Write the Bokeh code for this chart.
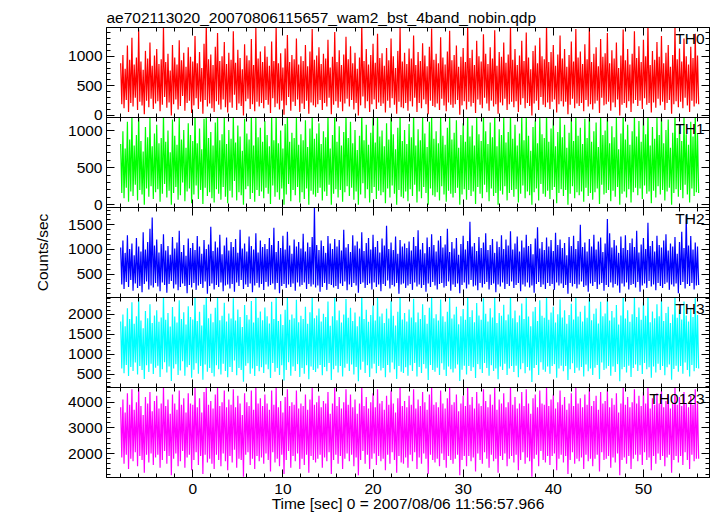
import numpy as np
from bokeh.plotting import figure
from bokeh.models import LinearAxis, Range1d, Label, SingleIntervalTicker
from bokeh.layouts import column
from bokeh.embed import file_html
from bokeh.resources import INLINE

TITLE = "ae702113020_20070806115657_wam2_bst_4band_nobin.qdp"
X_LABEL = "Time [sec] 0 = 2007/08/06 11:56:57.966"
Y_LABEL = "Counts/sec"

# The light curve is very dense; it is kept as the highest (_hi) and lowest (_lo)
# count rate seen in each 0.25 s bin.
T_START = -8.0   # start of first bin [s]
T_BIN = 0.25     # bin width [s]

th0_hi = [
    880, 1020, 790, 1180, 940, 1310, 860, 980, 1450, 910, 770, 1090, 960, 1230, 840, 1010,
    1120, 870, 950, 1500, 900, 1040, 760, 1190, 980, 860, 1270, 930, 1060, 820, 1150, 990,
    910, 1340, 880, 1070, 800, 1210, 1550, 950, 1030, 850, 1160, 1390, 920, 1000, 1240, 870,
    1060, 940, 1420, 890, 1110, 970, 780, 1200, 1010, 930, 1290, 850, 1480, 960, 1080, 900,
    1170, 990, 840, 1250, 920, 1520, 880, 1050, 810, 1130, 1360, 900, 1020, 950, 1300, 860,
    1000, 920, 1190, 830, 1080, 1460, 940, 1010, 1150, 870, 1040, 960, 1280, 810, 990, 1410,
    900, 1100, 850, 1030, 1330, 950, 1170, 880, 1060, 790, 980, 1540, 920, 1120, 860, 1020,
    1210, 890, 1380, 970, 1050, 840, 1140, 930, 1300, 1000, 800, 1090, 1500, 910, 1060, 870,
    1130, 960, 1350, 850, 1070, 920, 1220, 1010, 830, 1160, 1470, 940, 1040, 880, 1320, 980,
    860, 1080, 1430, 930, 1020, 1180, 820, 990, 1140, 900, 1550, 970, 1110, 850, 1260, 1000,
    910, 1370, 1040, 870, 1150, 960, 1440, 840, 1070, 990, 1230, 890, 1030, 1510, 940, 1120,
    850, 1010, 1260, 920, 1400, 980, 780, 1090, 1180, 880, 1310, 1000, 950, 1530, 900, 1070,
    1190, 840, 1030, 1350, 960, 1120, 820, 1020, 1250, 910, 1460, 980, 1080, 870, 1200, 950,
    1500, 900, 1040, 1150, 830, 1290, 990, 1050, 1390, 880, 1100, 960, 1230, 800, 1010, 1450,
    930, 1120, 860, 1040, 1420, 970, 1170, 900, 1280, 1000, 1540, 850, 1090, 940, 1240, 990,
    1340, 880, 1060, 1190, 820, 1020, 1480, 950, 1130, 910, 1300, 1000, 860, 1160, 970, 1380,
    1010,
]
th0_lo = [
    190, 120, 260, 60, 210, 150, 300, 90, 230, 170, 20, 250, 140, 280, 110, 200,
    240, 70, 180, 310, 130, 220, 0, 190, 270, 100, 160, 330, 80, 210, 250, 40,
    170, 290, 110, 230, 30, 260, 150, 200, 120, 60, 240, 180, 100, 270, 140, 50,
    220, 130, 350, 90, 200, 160, 0, 240, 280, 110, 190, 70, 230, 150, 210, 120,
    260, 180, 40, 290, 140, 200, 100, 250, 10, 170, 310, 80, 230, 160, 270, 60,
    200, 110, 250, 30, 220, 170, 140, 190, 260, 90, 210, 150, 300, 20, 180, 240,
    130, 230, 70, 200, 280, 150, 260, 100, 210, 0, 170, 320, 120, 240, 60, 190,
    270, 110, 220, 160, 200, 50, 250, 130, 290, 180, 30, 230, 140, 120, 210, 80,
    240, 150, 300, 60, 210, 120, 270, 190, 20, 250, 160, 140, 200, 90, 280, 170,
    70, 220, 180, 130, 190, 260, 10, 170, 240, 100, 230, 150, 210, 40, 270, 180,
    120, 300, 200, 80, 250, 150, 190, 30, 220, 170, 280, 90, 190, 230, 140, 240,
    60, 180, 290, 120, 210, 160, 0, 200, 250, 90, 310, 180, 140, 220, 110, 230,
    270, 50, 190, 240, 150, 230, 20, 180, 280, 120, 200, 160, 210, 70, 260, 150,
    190, 100, 200, 250, 40, 300, 170, 190, 230, 80, 220, 140, 270, 0, 180, 210,
    130, 240, 60, 200, 260, 160, 250, 110, 290, 180, 210, 50, 220, 130, 280, 170,
    230, 90, 210, 260, 30, 190, 240, 140, 230, 120, 300, 170, 60, 250, 150, 200,
    190,
]

th1_hi = [
    820, 990, 760, 1120, 880, 1210, 800, 940, 1240, 860, 720, 1050, 910, 1180, 790, 960,
    1080, 830, 900, 1230, 850, 1000, 710, 1150, 930, 810, 1200, 880, 1010, 770, 1100, 940,
    860, 1250, 830, 1030, 750, 1160, 1220, 900, 980, 800, 1110, 1200, 870, 950, 1190, 820,
    1010, 890, 1210, 840, 1070, 920, 730, 1160, 960, 880, 1230, 800, 1190, 910, 1040, 850,
    1130, 940, 790, 1200, 870, 1240, 830, 1000, 760, 1090, 1210, 850, 970, 900, 1180, 810,
    950, 870, 1140, 780, 1030, 1220, 890, 960, 1100, 820, 990, 910, 1200, 760, 940, 1230,
    850, 1060, 800, 980, 1210, 900, 1120, 830, 1010, 740, 930, 1250, 870, 1080, 810, 970,
    1170, 840, 1200, 920, 1000, 790, 1100, 880, 1220, 950, 750, 1040, 1240, 860, 1010, 820,
    1090, 910, 1230, 800, 1020, 870, 1180, 960, 780, 1120, 1210, 890, 990, 830, 1200, 930,
    810, 1040, 1220, 880, 970, 1140, 770, 940, 1100, 850, 1250, 920, 1070, 800, 1190, 950,
    860, 1210, 990, 820, 1110, 910, 1230, 790, 1020, 940, 1180, 840, 980, 1240, 890, 1080,
    800, 960, 1190, 870, 1220, 930, 730, 1050, 1140, 830, 1200, 950, 900, 1250, 850, 1030,
    1150, 790, 980, 1210, 910, 1080, 770, 970, 1190, 860, 1230, 930, 1040, 820, 1160, 900,
    1240, 850, 990, 1110, 780, 1200, 940, 1000, 1220, 830, 1060, 910, 1180, 750, 960, 1230,
    880, 1080, 810, 990, 1210, 920, 1130, 850, 1190, 950, 1250, 800, 1050, 890, 1170, 940,
    1210, 830, 1010, 1150, 770, 970, 1240, 900, 1090, 860, 1200, 950, 810, 1120, 920, 1220,
    960,
]
th1_lo = [
    160, 90, 230, 40, 180, 120, 270, 60, 200, 140, 0, 220, 110, 250, 80, 170,
    210, 40, 150, 280, 100, 190, 0, 160, 240, 70, 130, 300, 50, 180, 220, 20,
    140, 260, 80, 200, 10, 230, 120, 170, 90, 30, 210, 150, 70, 240, 110, 20,
    190, 100, 320, 60, 170, 130, 0, 210, 250, 80, 160, 40, 200, 120, 180, 90,
    230, 150, 10, 260, 110, 170, 70, 220, 0, 140, 280, 50, 200, 130, 240, 30,
    170, 80, 220, 0, 190, 140, 110, 160, 230, 60, 180, 120, 270, 0, 150, 210,
    100, 200, 40, 170, 250, 120, 230, 70, 180, 0, 140, 290, 90, 210, 30, 160,
    240, 80, 190, 130, 170, 20, 220, 100, 260, 150, 0, 200, 110, 90, 180, 50,
    210, 120, 270, 30, 180, 90, 240, 160, 0, 220, 130, 110, 170, 60, 250, 140,
    40, 190, 150, 100, 160, 230, 0, 140, 210, 70, 200, 120, 180, 10, 240, 150,
    90, 270, 170, 50, 220, 120, 160, 0, 190, 140, 250, 60, 160, 200, 110, 210,
    30, 150, 260, 90, 180, 130, 0, 170, 220, 60, 280, 150, 110, 190, 80, 200,
    240, 20, 160, 210, 120, 200, 0, 150, 250, 90, 170, 130, 180, 40, 230, 120,
    160, 70, 170, 220, 10, 270, 140, 160, 200, 50, 190, 110, 240, 0, 150, 180,
    100, 210, 30, 170, 230, 130, 220, 80, 260, 150, 180, 20, 190, 100, 250, 140,
    200, 60, 180, 230, 0, 160, 210, 110, 200, 90, 270, 140, 30, 220, 120, 170,
    160,
]

th2_hi = [
    1040, 1180, 930, 1290, 1010, 1120, 880, 1230, 1060, 960, 1350, 1000, 1150, 1420, 1650, 1080,
    1200, 940, 1110, 1310, 980, 1070, 890, 1250, 1020, 1140, 1380, 950, 1090, 870, 1220, 1030,
    1130, 990, 1270, 1060, 910, 1190, 1010, 1100, 1460, 970, 1160, 1040, 1300, 900, 1080, 1240,
    980, 1150, 1050, 1210, 930, 1400, 1020, 1120, 960, 1260, 1070, 1000, 1330, 940, 1180, 1050,
    1110, 1010, 1230, 1090, 1440, 950, 1170, 1030, 1280, 1000, 1360, 1080, 910, 1200, 1060, 1150,
    1020, 1320, 960, 1140, 1050, 1250, 1850, 1090, 990, 1180, 1070, 930, 1270, 1120, 1010, 1210,
    1060, 1190, 980, 1400, 1040, 1110, 950, 1290, 1080, 1160, 1020, 1350, 970, 1130, 1230, 1000,
    1300, 1050, 1170, 940, 1220, 1080, 1480, 1010, 1140, 990, 1260, 910, 1190, 1060, 1120, 1030,
    1160, 980, 1250, 1070, 1390, 1000, 1130, 920, 1240, 1050, 1310, 1090, 960, 1180, 1270, 1040,
    1100, 1420, 950, 1150, 1020, 1230, 890, 1110, 1280, 1000, 1170, 1560, 1060, 1130, 970, 1250,
    1030, 1140, 1330, 990, 1090, 1210, 930, 1160, 1050, 1290, 1010, 1200, 1080, 1370, 1000, 1120,
    1260, 960, 1180, 1040, 1300, 1070, 1110, 900, 1220, 1450, 1020, 1150, 990, 1240, 1060, 1190,
    970, 1340, 1090, 1200, 1030, 1130, 880, 1250, 1070, 1280, 1010, 1170, 1500, 1050, 1140, 960,
    1210, 1060, 1300, 1000, 1160, 1240, 950, 1120, 1620, 1330, 1040, 1190, 1080, 930, 1260, 1030,
    1290, 990, 1130, 1220, 1050, 1380, 940, 1100, 1230, 1010, 1540, 1070, 1170, 960, 1280, 1090,
    1040, 1180, 1310, 980, 1120, 1060, 1250, 910, 1150, 1360, 1030, 1700, 1080, 1270, 1000, 1140,
    1060,
]
th2_lo = [
    290, 200, 340, 240, 380, 160, 310, 220, 260, 130, 300, 350, 190, 270, 230, 320,
    250, 150, 330, 280, 120, 300, 360, 210, 290, 170, 240, 310, 260, 110, 280, 230,
    320, 180, 270, 300, 220, 350, 100, 260, 310, 190, 280, 240, 330, 150, 270, 290,
    210, 300, 140, 330, 260, 380, 200, 290, 240, 310, 130, 270, 320, 230, 300, 180,
    340, 250, 280, 310, 190, 320, 110, 260, 300, 220, 290, 240, 310, 160, 330, 250,
    280, 330, 200, 300, 250, 290, 230, 270, 140, 240, 320, 180, 300, 280, 230, 260,
    200, 310, 260, 350, 170, 290, 240, 320, 270, 120, 300, 330, 220, 280, 310, 190,
    330, 240, 290, 150, 300, 260, 370, 210, 280, 250, 320, 100, 290, 310, 220, 270,
    300, 180, 330, 250, 290, 220, 280, 140, 310, 240, 340, 270, 190, 300, 320, 230,
    260, 350, 160, 290, 240, 310, 110, 280, 330, 210, 290, 380, 250, 270, 170, 320,
    230, 300, 340, 190, 280, 310, 130, 290, 250, 330, 200, 300, 260, 350, 220, 280,
    320, 150, 290, 250, 330, 230, 270, 120, 300, 340, 240, 290, 200, 320, 260, 300,
    180, 330, 270, 310, 220, 280, 100, 320, 250, 300, 210, 290, 350, 240, 270, 140,
    310, 260, 340, 200, 290, 320, 160, 280, 240, 330, 230, 300, 270, 120, 310, 250,
    330, 190, 280, 300, 230, 340, 140, 270, 310, 220, 360, 250, 290, 170, 320, 260,
    220, 300, 330, 180, 290, 250, 310, 110, 280, 340, 210, 300, 260, 320, 190, 270,
    280,
]

th3_hi = [
    1820, 1990, 1700, 2150, 1880, 2300, 1760, 1950, 2420, 1840, 1650, 2080, 1900, 2250, 1780, 1970,
    2100, 1810, 1920, 2480, 1860, 2030, 1690, 2180, 1940, 1790, 2350, 1880, 2050, 1740, 2200, 1930,
    1870, 2440, 1830, 2060, 1720, 2240, 2500, 1900, 2010, 1800, 2160, 2450, 1850, 1960, 2290, 1820,
    2020, 1890, 2400, 1840, 2120, 1930, 1680, 2230, 1980, 1870, 2330, 1790, 2470, 1910, 2070, 1850,
    2170, 1950, 1770, 2310, 1880, 2500, 1830, 2000, 1730, 2110, 2420, 1860, 1990, 1900, 2360, 1800,
    1960, 1880, 2190, 1760, 2050, 2460, 1900, 1970, 2140, 1820, 2010, 1930, 2320, 1710, 1950, 2430,
    1850, 2090, 1790, 1990, 2380, 1910, 2160, 1830, 2040, 1700, 1940, 2500, 1880, 2110, 1810, 1980,
    2220, 1840, 2410, 1940, 2020, 1780, 2140, 1890, 2340, 1960, 1720, 2060, 2480, 1870, 2030, 1820,
    2120, 1920, 2390, 1800, 2040, 1880, 2250, 1980, 1760, 2160, 2450, 1900, 2000, 1840, 2370, 1950,
    1810, 2060, 2430, 1890, 1990, 2190, 1750, 1950, 2130, 1860, 2500, 1930, 2100, 1800, 2280, 1970,
    1860, 2400, 2010, 1820, 2150, 1920, 2460, 1780, 2030, 1960, 2240, 1850, 1990, 2490, 1900, 2090,
    1800, 1970, 2270, 1880, 2420, 1940, 1700, 2070, 2180, 1830, 2350, 1960, 1910, 2500, 1860, 2040,
    2190, 1790, 2000, 2370, 1920, 2100, 1760, 1980, 2260, 1870, 2440, 1940, 2060, 1820, 2210, 1910,
    2480, 1850, 2010, 2140, 1770, 2310, 1950, 2020, 2400, 1840, 2080, 1920, 2230, 1740, 1970, 2450,
    1890, 2100, 1810, 2000, 2430, 1930, 2170, 1860, 2300, 1960, 2500, 1800, 2070, 1900, 2250, 1950,
    2360, 1830, 2030, 2190, 1780, 1990, 2470, 1910, 2120, 1870, 2320, 1970, 1820, 2160, 1930, 2400,
    1980,
]
th3_lo = [
    640, 520, 730, 450, 680, 580, 790, 490, 700, 600, 380, 720, 550, 760, 500, 660,
    710, 430, 620, 800, 540, 690, 330, 640, 750, 480, 590, 820, 460, 670, 730, 410,
    610, 770, 510, 700, 360, 740, 560, 650, 530, 440, 720, 620, 490, 760, 580, 420,
    680, 550, 840, 470, 650, 600, 310, 710, 770, 510, 640, 450, 700, 570, 670, 530,
    740, 620, 400, 780, 560, 650, 480, 720, 340, 600, 800, 460, 690, 580, 750, 430,
    650, 510, 720, 370, 690, 600, 550, 640, 730, 470, 680, 570, 780, 350, 620, 710,
    540, 700, 440, 660, 760, 580, 740, 490, 680, 320, 610, 810, 530, 720, 430, 640,
    760, 520, 700, 590, 650, 420, 730, 540, 790, 620, 380, 700, 560, 530, 670, 460,
    720, 580, 780, 440, 680, 530, 750, 640, 350, 730, 600, 560, 660, 480, 770, 610,
    450, 690, 620, 540, 640, 740, 330, 610, 710, 490, 700, 580, 670, 400, 750, 620,
    530, 780, 650, 460, 720, 580, 640, 370, 690, 600, 760, 480, 640, 700, 550, 710,
    420, 620, 770, 520, 680, 590, 300, 650, 730, 480, 800, 610, 560, 690, 510, 700,
    750, 410, 640, 710, 570, 700, 350, 620, 770, 530, 660, 590, 680, 440, 740, 570,
    640, 480, 660, 730, 380, 790, 600, 640, 700, 460, 690, 550, 750, 320, 620, 680,
    540, 710, 430, 650, 740, 580, 720, 500, 780, 620, 670, 410, 690, 540, 760, 600,
    700, 470, 670, 740, 360, 630, 710, 560, 700, 510, 790, 600, 440, 730, 570, 650,
    640,
]

th0123_hi = [
    3800, 4100, 3600, 4350, 3900, 4500, 3700, 4000, 4600, 3850, 3500, 4200, 3950, 4400, 3650, 4050,
    4250, 3750, 3950, 4600, 3850, 4100, 3550, 4300, 3950, 3700, 4450, 3900, 4150, 3600, 4350, 3950,
    3900, 4550, 3800, 4150, 3600, 4400, 4600, 3900, 4050, 3750, 4300, 4550, 3850, 4000, 4450, 3800,
    4100, 3900, 4500, 3800, 4250, 3950, 3500, 4350, 4000, 3850, 4450, 3700, 4600, 3950, 4150, 3850,
    4300, 3950, 3700, 4450, 3900, 4600, 3800, 4050, 3600, 4200, 4500, 3850, 4000, 3900, 4450, 3750,
    3950, 3850, 4300, 3700, 4100, 4550, 3900, 4000, 4250, 3800, 4050, 3950, 4400, 3550, 3950, 4550,
    3850, 4200, 3750, 4000, 4500, 3900, 4300, 3800, 4100, 3550, 3950, 4600, 3850, 4200, 3750, 4000,
    4350, 3800, 4500, 3950, 4050, 3700, 4250, 3900, 4450, 3950, 3600, 4150, 4600, 3850, 4050, 3800,
    4250, 3900, 4500, 3750, 4100, 3850, 4400, 4000, 3700, 4300, 4550, 3900, 4000, 3800, 4450, 3950,
    3750, 4150, 4550, 3900, 4000, 4300, 3650, 3950, 4250, 3850, 4600, 3900, 4200, 3750, 4400, 3950,
    3850, 4500, 4050, 3800, 4300, 3900, 4550, 3700, 4100, 3950, 4350, 3800, 4000, 4600, 3900, 4200,
    3750, 3950, 4400, 3850, 4500, 3950, 3550, 4150, 4300, 3800, 4450, 3950, 3900, 4600, 3850, 4100,
    4300, 3750, 4000, 4450, 3900, 4200, 3700, 3950, 4350, 3850, 4550, 3950, 4150, 3800, 4300, 3900,
    4600, 3850, 4050, 4250, 3700, 4400, 3950, 4050, 4500, 3800, 4150, 3900, 4350, 3600, 3950, 4550,
    3900, 4200, 3800, 4000, 4500, 3950, 4250, 3850, 4400, 3950, 4600, 3750, 4150, 3900, 4350, 3950,
    4450, 3800, 4050, 4300, 3750, 3950, 4550, 3900, 4200, 3850, 4400, 3950, 3800, 4250, 3900, 4500,
    3950,
]
th0123_lo = [
    1850, 1600, 1950, 1400, 1800, 1700, 2050, 1500, 1900, 1750, 1250, 1950, 1650, 2000, 1550, 1850,
    1950, 1450, 1750, 2100, 1600, 1900, 1150, 1800, 2000, 1500, 1700, 2100, 1450, 1850, 1950, 1350,
    1750, 2050, 1550, 1900, 1200, 1950, 1650, 1800, 1600, 1400, 1950, 1750, 1500, 2000, 1700, 1350,
    1900, 1650, 2150, 1450, 1800, 1750, 1100, 1950, 2050, 1550, 1800, 1400, 1900, 1700, 1850, 1600,
    2000, 1750, 1300, 2050, 1650, 1800, 1500, 1950, 1200, 1750, 2100, 1450, 1900, 1700, 2000, 1400,
    1800, 1550, 1950, 1250, 1900, 1750, 1650, 1800, 1950, 1450, 1850, 1700, 2050, 1200, 1750, 1950,
    1600, 1900, 1400, 1800, 2000, 1700, 1950, 1500, 1850, 1150, 1750, 2100, 1600, 1950, 1400, 1800,
    2000, 1550, 1900, 1700, 1800, 1350, 1950, 1600, 2050, 1750, 1250, 1900, 1650, 1600, 1850, 1450,
    1950, 1700, 2050, 1400, 1850, 1600, 2000, 1800, 1200, 1950, 1750, 1650, 1800, 1500, 2000, 1750,
    1450, 1900, 1750, 1600, 1800, 1950, 1150, 1750, 1900, 1500, 1900, 1700, 1850, 1300, 2000, 1750,
    1600, 2050, 1800, 1450, 1950, 1700, 1800, 1250, 1900, 1750, 2000, 1500, 1800, 1900, 1650, 1950,
    1350, 1750, 2050, 1600, 1850, 1700, 1100, 1800, 1950, 1500, 2100, 1750, 1650, 1900, 1550, 1900,
    2000, 1350, 1800, 1950, 1650, 1900, 1200, 1750, 2050, 1600, 1800, 1700, 1850, 1400, 1950, 1700,
    1800, 1500, 1800, 1950, 1300, 2050, 1750, 1800, 1900, 1450, 1850, 1650, 2000, 1150, 1750, 1850,
    1600, 1900, 1400, 1800, 1950, 1700, 1950, 1550, 2050, 1750, 1850, 1350, 1900, 1600, 2000, 1750,
    1900, 1500, 1850, 1950, 1250, 1750, 1900, 1650, 1900, 1550, 2050, 1750, 1400, 1950, 1700, 1800,
    1800,
]

panel_names = ["TH0", "TH1", "TH2", "TH3", "TH0123"]
panel_hi = [th0_hi, th1_hi, th2_hi, th3_hi, th0123_hi]
panel_lo = [th0_lo, th1_lo, th2_lo, th3_lo, th0123_lo]
panel_colors = ["#ff0000", "#00ff00", "#0000ff", "#00ffff", "#ff00ff"]
panel_yranges = [(-35, 1485), (-36, 1177), (25, 1851), (164, 2419), (1066, 4572)]
panel_ytick = [500, 500, 500, 500, 1000]
X_RANGE = (-9.57, 57.33)

FONT = "Liberation Sans"
FS = "15.5px"
LEFT, RIGHT = 106, 8
FRAME_W = 603
W = LEFT + FRAME_W + RIGHT
TOP, FRAME_H, BOTTOM = 27, 90, 39
OV = 10   # canvases overlap so that labels at panel edges are not cut
LINE_W = 1.2

xr = Range1d(*X_RANGE)


def style_axis(ax, show_labels):
    ax.major_tick_in = 8
    ax.major_tick_out = 0
    ax.minor_tick_in = 4
    ax.minor_tick_out = 0
    ax.axis_line_color = "black"
    ax.major_tick_line_color = "black"
    ax.minor_tick_line_color = "black"
    if show_labels:
        ax.major_label_text_font = FONT
        ax.major_label_text_font_size = FS
        ax.major_label_text_color = "black"
        ax.major_label_standoff = 4
    else:
        ax.major_label_text_font_size = "0px"
        ax.major_label_standoff = 0


figs = []
n = len(panel_names)
for i in range(n):
    first, last = i == 0, i == n - 1
    y0, y1 = panel_yranges[i]
    top_b = TOP if first else 0
    bot_b = BOTTOM if last else OV
    p = figure(width=W, height=FRAME_H + top_b + bot_b, x_range=xr, y_range=Range1d(y0, y1),
               output_backend="svg", toolbar_location=None,
               x_axis_location=None, y_axis_location=None,
               min_border_left=LEFT, min_border_right=RIGHT,
               min_border_top=top_b, min_border_bottom=bot_b)
    if not first:
        p.margin = (-OV, 0, 0, 0)
    p.border_fill_alpha = 0
    p.grid.visible = False
    p.outline_line_color = "black"
    p.outline_line_width = 1

    xt = SingleIntervalTicker(interval=10, num_minor_ticks=5)
    yt = SingleIntervalTicker(interval=panel_ytick[i], num_minor_ticks=5)

    ax_l = LinearAxis(ticker=yt)
    style_axis(ax_l, True)
    if i == 2:
        ax_l.axis_label = Y_LABEL
        ax_l.axis_label_text_font = FONT
        ax_l.axis_label_text_font_size = FS
        ax_l.axis_label_text_font_style = "normal"
        ax_l.axis_label_text_color = "black"
        ax_l.axis_label_standoff = 14
    p.add_layout(ax_l, "left")
    ax_r = LinearAxis(ticker=yt)
    style_axis(ax_r, False)
    p.add_layout(ax_r, "right")
    ax_t = LinearAxis(ticker=xt)
    style_axis(ax_t, False)
    p.add_layout(ax_t, "above")
    ax_b = LinearAxis(ticker=xt)
    style_axis(ax_b, last)
    if last:
        ax_b.major_label_standoff = 6
        ax_b.axis_label = X_LABEL
        ax_b.axis_label_text_font = FONT
        ax_b.axis_label_text_font_size = FS
        ax_b.axis_label_text_font_style = "normal"
        ax_b.axis_label_text_color = "black"
        ax_b.axis_label_standoff = -2
    p.add_layout(ax_b, "below")

    # zig-zag through each bin's maximum and minimum, as the dense curve looks
    hi, lo = panel_hi[i], panel_lo[i]
    vals = np.empty(len(hi) + len(lo))
    vals[0::2] = hi
    vals[1::2] = lo
    t = T_START + (T_BIN / 2) * np.arange(len(vals))
    p.line(t, vals, line_color=panel_colors[i], line_width=LINE_W, line_join="bevel")

    p.add_layout(Label(x=X_RANGE[1], y=y1, text=panel_names[i], x_offset=-5, y_offset=-2,
                       text_align="right", text_baseline="top", text_font=FONT,
                       text_font_size=FS, text_color="black"))
    if first:
        p.title.text = TITLE
        p.title.align = "left"
        p.title.offset = 0
        p.title.standoff = 4
        p.title.text_font = FONT
        p.title.text_font_size = FS
        p.title.text_font_style = "normal"
        p.title.text_color = "black"
    figs.append(p)

layout = column(*figs, spacing=0)
open("out.html", "w").write(file_html(layout, INLINE))
